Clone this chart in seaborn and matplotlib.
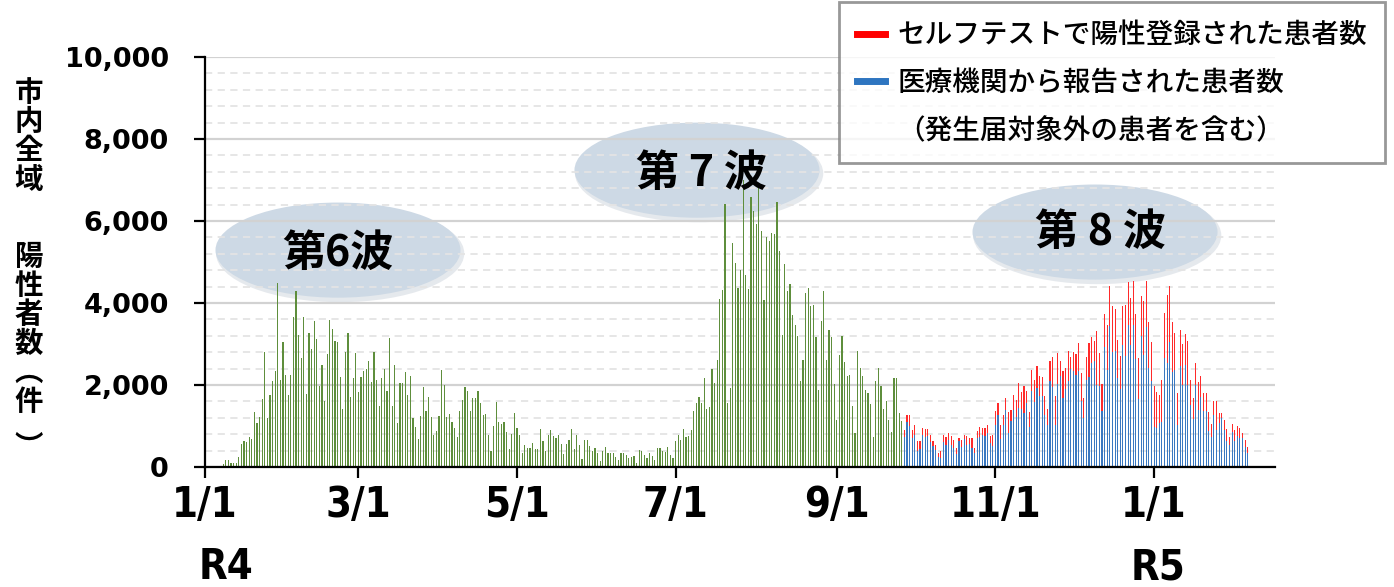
import numpy as np
import pandas as pd
import seaborn as sns
import matplotlib.pyplot as plt
from matplotlib.patches import Ellipse
from matplotlib.lines import Line2D
from matplotlib.ticker import MultipleLocator, FuncFormatter

# daily positives, 2022-01-01 .. 2022-09-26 (all cases, green)
all_cases = [
    8, 12, 10, 15, 18, 25,
    30, 80, 160, 160, 100, 105, 105, 250, 560, 630,
    610, 720, 680, 1330, 1080, 1210, 1670, 2800, 1200, 1760,
    2100, 2350, 4500, 2130, 3050, 2240, 1760, 2240, 3670, 4300,
    3210, 2670, 3660, 1770, 3260, 2870, 3550, 3130, 1980, 2480,
    1610, 2750, 3580, 3370, 3070, 3040, 2190, 1410, 2800, 3280,
    1700, 2170, 2780, 1830, 2200, 2340, 2400, 2590, 2070, 2800,
    2120, 1480, 2170,
    2400, 1850, 3150, 1480, 2480, 1065, 2040, 2040, 2310, 1750,
    2210, 1190, 970, 675, 1245, 1960, 1360, 1700, 1230, 770,
    890, 1245, 2370, 2010, 1220, 1285, 1090, 950, 730, 1360,
    1630, 1960, 1850, 1375, 1680, 1690, 1850, 1550, 1260, 1300,
    770, 400, 990, 1590, 1090, 1060, 1105, 845, 450, 800,
    1310, 960, 770, 330, 530, 470, 460, 590, 440, 440,
    935, 635, 380, 770, 910, 755, 710, 770,
    560, 320, 570, 660, 930, 430, 790, 530, 200, 670,
    650, 520, 400, 460, 340, 140, 380, 500, 340, 330,
    330, 235, 180, 330, 330, 285, 220, 235, 270, 90,
    405, 380, 285, 220, 330, 260, 180, 460, 460, 400,
    365, 500, 300, 220, 625, 770, 665, 925, 725, 750,
    900, 1360, 1550, 1715, 1570, 2160, 1420, 1455, 2380, 2040,
    2620, 4105, 4325, 6415, 1560, 1925, 5460,
    4985, 4365, 4805, 7000, 4690, 4350, 6585, 6235, 5925, 6850,
    5765, 4065, 5610, 5505, 5710, 5690, 6465, 5275, 3220, 4950,
    4300, 4470, 3715, 3455, 3205, 2105, 2610, 4250, 4360, 3920,
    3945, 3165, 1880, 3555, 4285, 2620, 3340, 3165, 2015, 1155,
    2725, 3205, 2555, 2210, 2250, 1490, 830, 2840, 2415, 2220,
    1880, 1815, 1530, 725, 2090, 2415, 1975, 1405, 1600, 1145,
    845, 2170, 2170, 1325, 1115,
]

# from 2022-09-27: reported by medical institutions (blue)
medical = [
    732, 1098, 992, 707, 789, 382, 439, 772, 724, 764,
    610, 504, 407, 236, 220, 610, 545, 667, 528, 463,
    325, 626, 488, 691, 545, 569, 463, 341, 707, 724,
    772, 764, 829, 585, 504, 1033, 1276, 675, 1033, 1398,
    829, 1114, 1382, 1220, 1439, 1415, 1317, 1561, 984, 1862,
    1577, 1927, 1724, 1724, 1260, 1033, 2106, 1943, 1016, 2024,
    2211, 1683, 1911, 2089, 2382, 2350, 2236,
    2333, 1602, 1195, 2130, 2187, 2537, 2593, 2008, 1984, 1374,
    2935, 2374, 3431, 2797, 2837, 2171, 1911, 2984, 2699, 3455,
    2984, 3472, 2634, 1667, 3203, 2740, 3406, 2415, 2106, 967,
    951, 1073, 1098, 2659, 2537, 3049, 2317, 2374, 1033, 2455,
    2008, 2480, 1992, 1520, 1179, 1992, 1398, 1699, 1374, 1358,
    870, 732, 1276, 911, 1073, 1195, 911, 642, 545, 854,
    626, 748, 707, 707, 488, 341,
]

# self-test registrations (red, stacked on blue)
selftest = [
    179, 163, 285, 203, 228, 244, 187, 179, 211, 171,
    179, 138, 138, 106, 163, 179, 179, 154, 220, 203,
    138, 81, 163, 98, 203, 138, 244, 122, 179, 252,
    179, 187, 187, 163, 268, 325, 285, 341, 244, 285,
    512, 285, 366, 423, 610, 415, 650, 300, 350, 496,
    553, 528, 488, 463, 463, 390, 488, 732, 707, 764,
    382, 650, 504, 732, 301, 455, 520,
    691, 691, 488, 545, 837, 626, 472, 1301, 797, 650,
    797, 1098, 992, 1122, 1024, 935, 789, 951, 1260, 1049,
    1138, 1073, 1098, 992, 959, 1301, 1122, 1122, 943, 1016,
    870, 691, 1033, 1098, 1650, 1358, 1211, 894, 772, 878,
    992, 772, 1089, 594, 504, 545, 667, 528, 431, 447,
    463, 317, 325, 691, 252, 130, 244, 285, 187, 203,
    268, 244, 244, 122, 163, 146,
]

tick_dates = ["2022-01-01", "2022-03-01", "2022-05-01", "2022-07-01",
              "2022-09-01", "2022-11-01", "2023-01-01"]
tick_labels = ["1/1", "3/1", "5/1", "7/1", "9/1", "11/1", "1/1"]
wave_labels = ["第6波", "第 7 波", "第 8 波"]
legend_labels = ["セルフテストで陽性登録された患者数",
                 "医療機関から報告された患者数",
                 "（発生届対象外の患者を含む）"]
ylabel_chars = ["市", "内", "全", "域", "陽", "性", "者", "数", "︵", "件", "︶"]

start = pd.Timestamp("2022-01-01")
n_green = len(all_cases)
green = pd.DataFrame({"day": np.arange(n_green), "n": all_cases})
late = pd.DataFrame({"day": np.arange(n_green, n_green + len(medical)),
                     "medical": medical})
late["total"] = late["medical"] + np.array(selftest)

plt.rcParams["font.family"] = ["Noto Sans CJK JP", "DejaVu Sans"]

W, H = 1394, 587
fig = plt.figure(figsize=(W / 100, H / 100), dpi=100)
ax = fig.add_axes([205 / W, 120 / H, 1070 / W, 410 / H])

bar_kw = dict(native_scale=True, orient="x", width=0.45, saturation=1,
              errorbar=None, linewidth=0, ax=ax)
sns.barplot(data=green, x="day", y="n", color="#5e8e3c", **bar_kw)
sns.barplot(data=late, x="day", y="total", color="#ff2a2a", **bar_kw)
sns.barplot(data=late, x="day", y="medical", color="#3a78c0", **bar_kw)

ax.set_xlim(0, 411.5)
ax.set_ylim(0, 10000)

# grid
ax.set_axisbelow(True)
ax.yaxis.set_major_locator(MultipleLocator(2000))
ax.yaxis.set_minor_locator(MultipleLocator(400))
ax.grid(axis="y", which="major", color="#d2d2d2", lw=1.6)
ax.grid(axis="y", which="minor", color="#e4e4e4", lw=1.3, ls=(0, (4, 3)))
ax.yaxis.set_major_formatter(FuncFormatter(lambda v, p: f"{int(v):,}"))

for s in ["top", "right"]:
    ax.spines[s].set_visible(False)
for s in ["left", "bottom"]:
    ax.spines[s].set_color("black")
    ax.spines[s].set_linewidth(1.6)

xfont = dict(fontsize=30, fontweight="bold", fontstretch="condensed",
             family=["DejaVu Sans"])
tick_pos = [(pd.Timestamp(d) - start).days for d in tick_dates]
ax.set_xticks(tick_pos)
ax.set_xticklabels(tick_labels, **xfont)
ax.tick_params(axis="x", which="major", length=8, width=1.6, pad=4)
ax.tick_params(axis="y", which="major", length=8, width=1.6, pad=18)
ax.tick_params(axis="y", which="minor", length=0)
for t in ax.get_yticklabels():
    t.set_fontsize(19.5)
    t.set_fontweight("bold")
    t.set_family(["DejaVu Sans"])
ax.set_xlabel("")
ax.set_ylabel("")

# era labels under the first day of each year
xt = ax.get_xaxis_transform()
ax.text(tick_pos[0] + 8, -0.244, "R4", transform=xt, ha="center",
        va="center", **xfont)
ax.text(tick_pos[-1] + 1.5, -0.244, "R5", transform=xt, ha="center",
        va="center", **xfont)

# wave bubbles (axes fraction)
bubbles = [(0.1243, 0.529, 0.1243, 0.522), (0.4598, 0.724, 0.4636, 0.717),
           (0.8318, 0.573, 0.8364, 0.573)]
for (ex, ey, tx, ty), lab in zip(bubbles, wave_labels):
    ax.add_patch(Ellipse((ex + 0.002, ey - 0.008), 0.232, 0.238,
                         transform=ax.transAxes, facecolor="#9aa8b8",
                         alpha=0.25, lw=0, zorder=0.4))
    ax.add_patch(Ellipse((ex, ey), 0.229, 0.232, transform=ax.transAxes,
                         facecolor="#cdd9e5", lw=0, zorder=0.5))
    ax.text(tx, ty, lab, transform=ax.transAxes, ha="center", va="center",
            fontsize=31, fontweight="bold", color="black", zorder=5)

# y label, one upright character per line
ylab_y = [93, 122, 151, 180, 257, 286, 315, 344, 373, 402, 448]
for ch, yp in zip(ylabel_chars, ylab_y):
    fig.text(29 / W, 1 - yp / H, ch, ha="center", va="center",
             fontsize=20.5, fontweight="bold")

# legend
handles = [Line2D([], [], color="#ff0000", lw=5),
           Line2D([], [], color="#2e75c0", lw=5),
           Line2D([], [], color="none", lw=0)]
leg = fig.legend(handles, legend_labels, loc="upper right",
                 bbox_to_anchor=(1385 / W, 1 - 2 / H),
                 bbox_transform=fig.transFigure,
                 prop={"size": 19.9, "weight": "medium"},
                 frameon=True, fancybox=False, edgecolor="#7f7f7f",
                 handlelength=1.0, handletextpad=0.45, labelspacing=0.68,
                 borderpad=0.66, borderaxespad=0)
leg.get_frame().set_linewidth(2)

fig.savefig("out.png", dpi=100)
